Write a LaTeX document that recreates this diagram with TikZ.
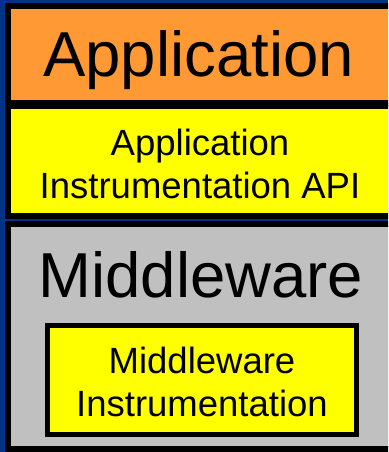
\documentclass[tikz,border=0pt]{standalone}
\usepackage{fontspec}
\setmainfont{Liberation Sans}
\definecolor{navy}{RGB}{0,51,136}
\definecolor{layerorange}{RGB}{255,153,51}
\definecolor{layeryellow}{RGB}{255,255,0}
\definecolor{layergray}{RGB}{192,192,192}
\begin{document}
\begin{tikzpicture}[x=1pt,y=-1pt,
  layer/.style={draw=black,line width=5.5pt},
  bigtext/.style={font=\fontsize{63.5}{76}\selectfont,anchor=base,inner sep=0pt},
  smalltext/.style={font=\fontsize{36.5}{43}\selectfont,anchor=base,inner sep=0pt}]
\useasboundingbox (0,0) rectangle (388,452);
\clip (0,0) rectangle (388,452);
\fill[navy] (0,0) rectangle (388,452);
% application layer
\filldraw[layer,fill=layerorange] (7.75,6) rectangle (420,103);
% instrumentation API layer
\filldraw[layer,fill=layeryellow] (7.75,106) rectangle (420,216);
% middleware layer
\filldraw[layer,fill=layergray,line width=6pt] (8,223.5) rectangle (420,449);
% middleware instrumentation box
\filldraw[layer,fill=layeryellow,line width=5pt] (47.5,325) rectangle (356.5,434.5);
% labels
\node[bigtext] (app) at (198.5,77) {Application};
\node[smalltext] (api1) at (200,155) {Application};
\node[smalltext] (api2) at (200,198) {Instrumentation API};
\node[bigtext] (mw) at (201,297) {Middleware};
\node[smalltext] (mwi1) at (202,373) {Middleware};
\node[smalltext] (mwi2) at (202,416) {Instrumentation};
\end{tikzpicture}
\end{document}
